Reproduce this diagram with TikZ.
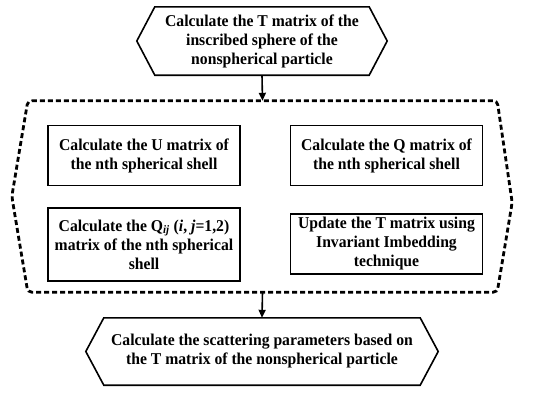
\documentclass[tikz,border=0pt]{standalone}
\usepackage{fontspec}
\setmainfont{Liberation Serif}[FakeStretch=0.95]
\usetikzlibrary{arrows.meta}
\begin{document}
\begin{tikzpicture}[x=1pt,y=-1pt,
  txt/.style={font=\fontsize{16.5}{19}\selectfont\bfseries, align=center, inner sep=0pt},
  hexnode/.style={txt, minimum width=#1, minimum height=68},
  boxnode/.style={txt, draw, line width=1.6pt, minimum width=192},
  dashline/.style={line width=2.8pt, dash pattern=on 5pt off 3pt, rounded corners=4pt},
  hexline/.style={line width=1.6pt, line join=miter},
  arr/.style={line width=1.6pt, -{Triangle[length=8pt,width=7pt]}}
]
\useasboundingbox (0,0) rectangle (550,397);
% top hexagon
\node[hexnode=214] (top) at (262,41) {Calculate the T matrix of the\\inscribed sphere of the\\nonspherical particle};
\draw[hexline] (top.north west) -- (top.north east) -- ([xshift=18pt]top.east) -- (top.south east) -- (top.south west) -- ([xshift=-18pt]top.west) -- cycle;
% dashed loop region
\node[minimum width=469, minimum height=191, inner sep=0pt] (loop) at (262.5,196.5) {};
\draw[dashline] (loop.north west) -- (loop.north east) -- ([xshift=15pt,yshift=-6pt]loop.east) -- (loop.south east) -- (loop.south west) -- ([xshift=-16pt]loop.west) -- cycle;
% inner boxes
\node[boxnode, minimum height=60] (U) at (144,155.5) {Calculate the U matrix of\\the nth spherical shell};
\node[boxnode, minimum height=60] (Q) at (386.5,155.5) {Calculate the Q matrix of\\the nth spherical shell};
\node[boxnode, minimum height=73] (Qij) at (144,244.5) {Calculate the Q\textsubscript{\textit{ij}} (\textit{i}, \textit{j}=1,2)\\matrix of the nth spherical\\shell};
\node[boxnode, minimum height=60] (T) at (386.5,244) {Update the T matrix using\\Invariant Imbedding\\technique};
% bottom hexagon
\node[hexnode=316, minimum height=67] (bot) at (262,351.5) {Calculate the scattering parameters based on\\the T matrix of the nonspherical particle};
\draw[hexline] (bot.north west) -- (bot.north east) -- ([xshift=18pt]bot.east) -- (bot.south east) -- (bot.south west) -- ([xshift=-18pt]bot.west) -- cycle;
% arrows
\draw[arr] (top.south) -- (loop.north);
\draw[arr] (loop.south) -- (bot.north);
\end{tikzpicture}
\end{document}
